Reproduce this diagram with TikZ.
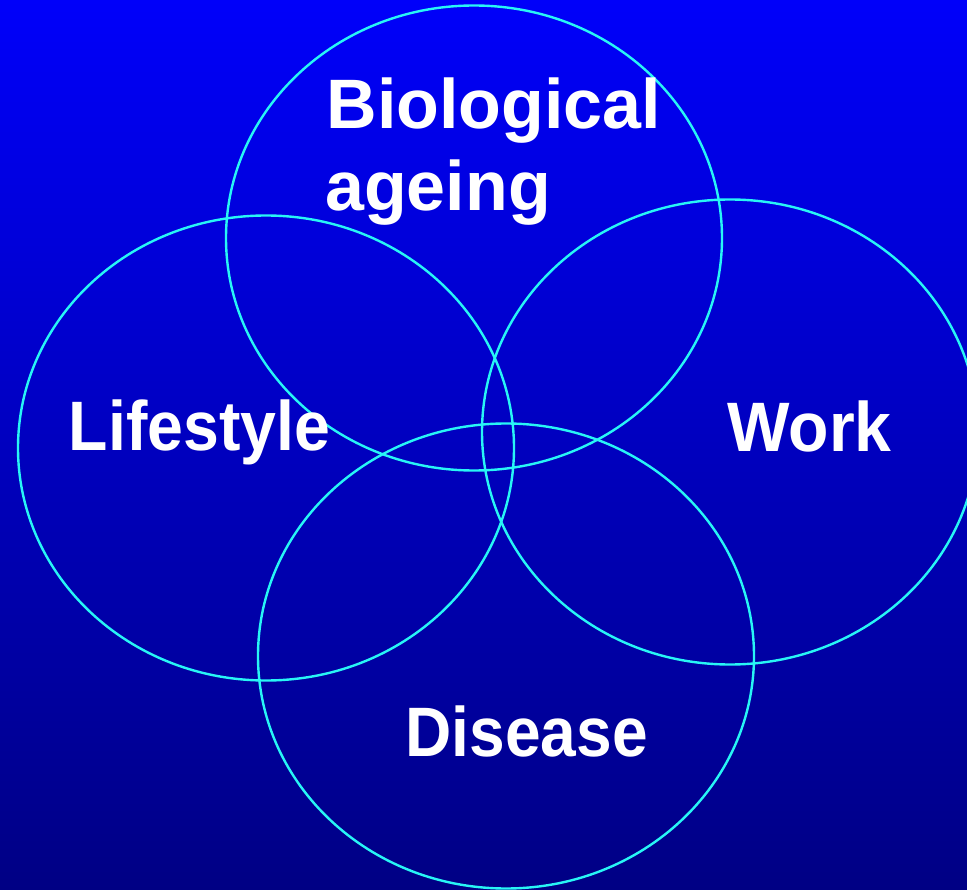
\documentclass[tikz,border=0pt]{standalone}
\usepackage{fontspec}
\usepackage{graphicx}
\setmainfont{Liberation Sans}
\usetikzlibrary{shapes.geometric}
\definecolor{bgtop}{RGB}{0,0,250}
\definecolor{bgbot}{RGB}{0,0,132}
\definecolor{ringc}{RGB}{40,245,245}
\tikzset{
  ring/.style={ellipse, draw=ringc, line width=2.4pt, inner sep=0pt,
    minimum width=496pt, minimum height=465pt},
  lbl/.style={anchor=base west, inner sep=0pt, text=white,
    font=\fontsize{70}{84}\selectfont\bfseries}
}
\begin{document}
\begin{tikzpicture}[x=1pt,y=-1pt]
\useasboundingbox (0,0) rectangle (967,890);
\clip (0,0) rectangle (967,890);
\shade[top color=bgtop, bottom color=bgbot] (0,0) rectangle (967,890);
\node[ring] (bio) at (474,238) {};
\node[ring] (life) at (266,448) {};
\node[ring] (work) at (730,432) {};
\node[ring] (dis) at (506,656) {};
\node[lbl] (bio1) at (326.5,129) {Biological};
\node[lbl] (bio2) at (325,211) {ageing};
\node[lbl] (lifet) at (68.6,451) {\scalebox{0.92}[1]{Lifestyle}};
\node[lbl] (workt) at (727.3,452) {\scalebox{0.945}[1]{Work}};
\node[lbl] (dist) at (405.3,756) {\scalebox{0.915}[1]{Disease}};
\end{tikzpicture}
\end{document}
